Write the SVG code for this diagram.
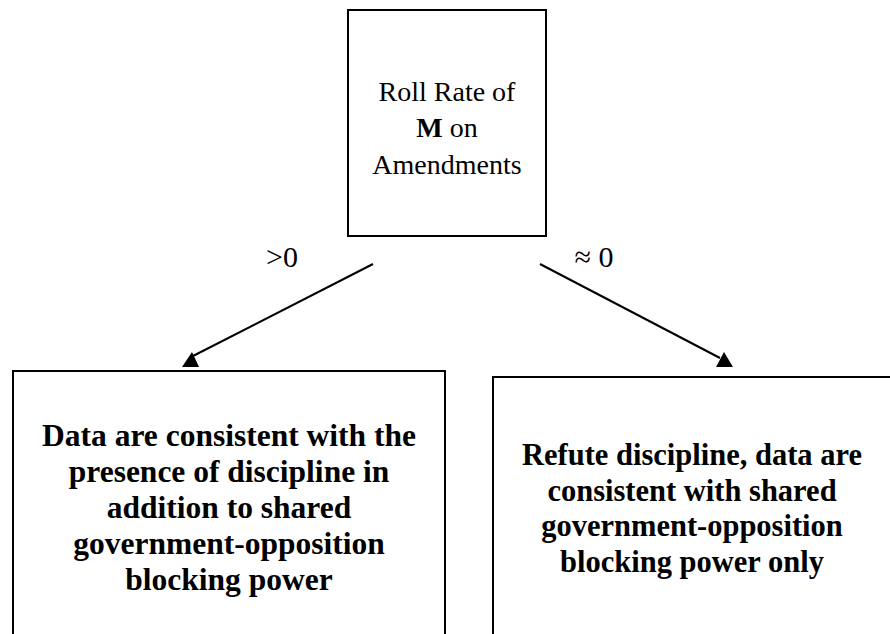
<svg xmlns="http://www.w3.org/2000/svg" width="890" height="634" viewBox="0 0 890 634">
  <style>
    .box { fill: #ffffff; stroke: #000000; stroke-width: 2; }
    .reg { font-family: "Liberation Serif", "Times New Roman", serif; font-size: 28px; fill: #000000; text-anchor: middle; }
    .lbl { font-family: "Liberation Serif", "Times New Roman", serif; font-size: 30px; fill: #000000; text-anchor: middle; }
    .bold { font-family: "Liberation Serif", "Times New Roman", serif; font-size: 31.5px; font-weight: bold; fill: #000000; text-anchor: middle; }
    .bold-r { font-size: 30.5px; }
    .edge { stroke: #000000; stroke-width: 2; fill: none; }
    .head { fill: #000000; stroke: none; }
  </style>
  <rect width="890" height="634" fill="#ffffff"/>

  <g id="node-roll-rate">
    <rect class="box" x="348" y="10" width="198" height="226"/>
    <text class="reg" x="447" y="101">Roll Rate of</text>
    <text class="reg" x="447" y="137"><tspan font-weight="bold">M</tspan> on</text>
    <text class="reg" x="447" y="174">Amendments</text>
  </g>

  <g id="node-discipline">
    <rect class="box" x="13" y="371" width="432" height="290"/>
    <text class="bold" x="229" y="446">Data are consistent with the</text>
    <text class="bold" x="229" y="482">presence of discipline in</text>
    <text class="bold" x="229" y="518">addition to shared</text>
    <text class="bold" x="229" y="554">government-opposition</text>
    <text class="bold" x="229" y="590">blocking power</text>
  </g>

  <g id="node-refute">
    <rect class="box" x="493" y="377" width="420" height="290"/>
    <text class="bold bold-r" x="692" y="465">Refute discipline, data are</text>
    <text class="bold bold-r" x="692" y="501">consistent with shared</text>
    <text class="bold bold-r" x="692" y="536">government-opposition</text>
    <text class="bold bold-r" x="692" y="572">blocking power only</text>
  </g>

  <g id="connectors">
    <line class="edge" x1="373" y1="264" x2="193" y2="356"/>
    <polygon class="head" points="182,367 199,367 192,352"/>
    <text class="lbl" x="282" y="267">&gt;0</text>

    <line class="edge" x1="540" y1="264" x2="720" y2="358"/>
    <polygon class="head" points="716,367 733,367 724,352"/>
    <text class="lbl" x="594" y="267">≈ 0</text>
  </g>
</svg>
